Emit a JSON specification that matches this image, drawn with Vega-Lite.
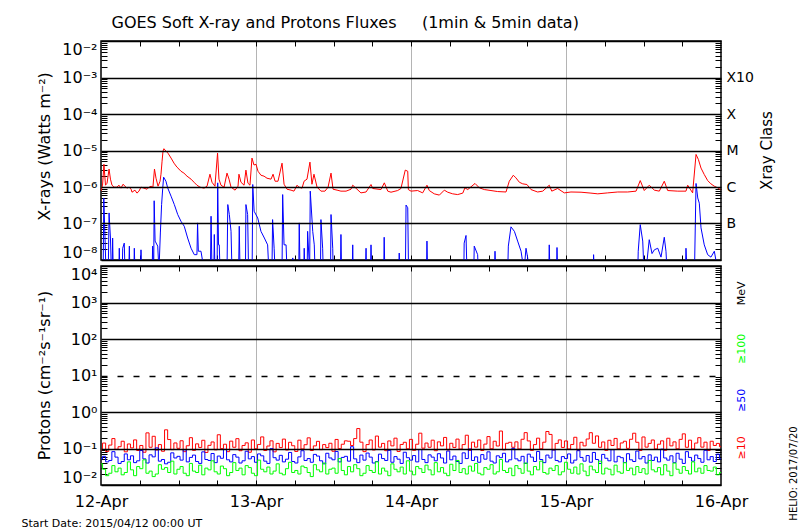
{
"$schema": "https://vega.github.io/schema/vega-lite/v6.json",
"background": "white",
"padding": {"left": 20, "top": 13, "right": 0, "bottom": 0},
"config": {
  "font": "DejaVu Sans",
  "view": {"stroke": "black", "strokeWidth": 1.5},
  "axis": {"labelFont": "DejaVu Sans", "titleFont": "DejaVu Sans", "labelColor": "black", "titleColor": "black", "titleFontWeight": "normal"}
},
"datasets": {
"xr": [
{"d":12.000,"v":7.7e-7},{"d":12.010,"v":1.12e-6},{"d":12.019,"v":4.2e-6},{"d":12.029,"v":1.12e-6},{"d":12.039,"v":1.27e-6},{"d":12.052,"v":3.1e-6},{"d":12.061,"v":1.64e-6},{"d":12.071,"v":1.12e-6},{"d":12.084,"v":9.9e-7},{"d":12.103,"v":9.9e-7},{"d":12.116,"v":1.12e-6},{"d":12.129,"v":9.3e-7},{"d":12.142,"v":1.19e-6},{"d":12.155,"v":1.05e-6},{"d":12.168,"v":9.3e-7},{"d":12.181,"v":9.9e-7},{"d":12.194,"v":8.7e-7},{"d":12.200,"v":7.2e-7},{"d":12.219,"v":8.2e-7},{"d":12.232,"v":6.8e-7},{"d":12.245,"v":7.7e-7},{"d":12.258,"v":9.9e-7},{"d":12.277,"v":9.3e-7},{"d":12.297,"v":8.7e-7},{"d":12.310,"v":9.9e-7},{"d":12.323,"v":1.05e-6},{"d":12.335,"v":9.9e-7},{"d":12.345,"v":3.1e-6},{"d":12.355,"v":1.74e-6},{"d":12.368,"v":1.05e-6},{"d":12.381,"v":1.44e-6},{"d":12.387,"v":2.24e-6},{"d":12.394,"v":5.1e-6},{"d":12.400,"v":9.6e-6},{"d":12.406,"v":1.12e-5},{"d":12.419,"v":9.6e-6},{"d":12.432,"v":8.45e-6},{"d":12.452,"v":6.2e-6},{"d":12.471,"v":4.5e-6},{"d":12.490,"v":3.5e-6},{"d":12.503,"v":3.1e-6},{"d":12.516,"v":2.7e-6},{"d":12.535,"v":2.4e-6},{"d":12.555,"v":1.98e-6},{"d":12.581,"v":1.64e-6},{"d":12.600,"v":1.35e-6},{"d":12.619,"v":1.12e-6},{"d":12.639,"v":9.9e-7},{"d":12.665,"v":9.3e-7},{"d":12.684,"v":1.05e-6},{"d":12.703,"v":2.24e-6},{"d":12.716,"v":1.35e-6},{"d":12.735,"v":1.05e-6},{"d":12.752,"v":8.45e-6},{"d":12.761,"v":1.64e-6},{"d":12.774,"v":1.12e-6},{"d":12.794,"v":9.9e-7},{"d":12.813,"v":2.4e-6},{"d":12.826,"v":1.64e-6},{"d":12.839,"v":9.9e-7},{"d":12.865,"v":8.2e-7},{"d":12.884,"v":1.05e-6},{"d":12.890,"v":2.24e-6},{"d":12.903,"v":1.35e-6},{"d":12.923,"v":1.12e-6},{"d":12.935,"v":2.9e-6},{"d":12.948,"v":1.27e-6},{"d":12.961,"v":1.12e-6},{"d":12.974,"v":6.2e-6},{"d":12.987,"v":4.0e-6},{"d":13.000,"v":4.2e-6},{"d":13.013,"v":2.7e-6},{"d":13.032,"v":2.1e-6},{"d":13.052,"v":1.98e-6},{"d":13.071,"v":1.74e-6},{"d":13.097,"v":1.64e-6},{"d":13.110,"v":2.24e-6},{"d":13.123,"v":1.44e-6},{"d":13.142,"v":1.44e-6},{"d":13.168,"v":4.5e-6},{"d":13.181,"v":1.19e-6},{"d":13.200,"v":8.7e-7},{"d":13.226,"v":8.2e-7},{"d":13.245,"v":7.7e-7},{"d":13.265,"v":1.12e-6},{"d":13.277,"v":9.9e-7},{"d":13.297,"v":9.3e-7},{"d":13.310,"v":1.44e-6},{"d":13.329,"v":1.64e-6},{"d":13.348,"v":4.8e-6},{"d":13.361,"v":1.19e-6},{"d":13.374,"v":2.24e-6},{"d":13.394,"v":9.9e-7},{"d":13.419,"v":7.7e-7},{"d":13.445,"v":7.7e-7},{"d":13.465,"v":9.9e-7},{"d":13.484,"v":2.4e-6},{"d":13.497,"v":8.7e-7},{"d":13.523,"v":8.2e-7},{"d":13.548,"v":7.7e-7},{"d":13.581,"v":7.7e-7},{"d":13.613,"v":8.7e-7},{"d":13.624,"v":1.12e-6},{"d":13.677,"v":6.9e-7},{"d":13.710,"v":7.3e-7},{"d":13.742,"v":1.17e-6},{"d":13.753,"v":9.1e-7},{"d":13.806,"v":8.5e-7},{"d":13.828,"v":1.3e-6},{"d":13.850,"v":7.7e-7},{"d":13.871,"v":7.2e-7},{"d":13.914,"v":8.0e-7},{"d":13.935,"v":9.1e-7},{"d":13.963,"v":2.9e-6},{"d":13.979,"v":2.7e-6},{"d":13.983,"v":8.5e-7},{"d":14.000,"v":7.7e-7},{"d":14.043,"v":8.0e-7},{"d":14.075,"v":6.9e-7},{"d":14.103,"v":1.12e-6},{"d":14.118,"v":8.0e-7},{"d":14.150,"v":6.5e-7},{"d":14.183,"v":6.0e-7},{"d":14.215,"v":8.2e-7},{"d":14.237,"v":7.2e-7},{"d":14.269,"v":6.5e-7},{"d":14.301,"v":6.2e-7},{"d":14.334,"v":6.8e-7},{"d":14.348,"v":9.5e-7},{"d":14.366,"v":8.5e-7},{"d":14.413,"v":1.25e-6},{"d":14.441,"v":9.5e-7},{"d":14.473,"v":8.5e-7},{"d":14.516,"v":8.0e-7},{"d":14.559,"v":7.5e-7},{"d":14.613,"v":7.3e-7},{"d":14.634,"v":1.44e-6},{"d":14.660,"v":2.1e-6},{"d":14.677,"v":1.78e-6},{"d":14.699,"v":1.35e-6},{"d":14.721,"v":1.22e-6},{"d":14.748,"v":1.17e-6},{"d":14.774,"v":8.5e-7},{"d":14.817,"v":7.3e-7},{"d":14.850,"v":7.7e-7},{"d":14.892,"v":1.12e-6},{"d":14.908,"v":7.7e-7},{"d":14.946,"v":9.1e-7},{"d":14.989,"v":6.9e-7},{"d":15.032,"v":7.3e-7},{"d":15.097,"v":7.2e-7},{"d":15.161,"v":6.8e-7},{"d":15.205,"v":6.5e-7},{"d":15.269,"v":6.9e-7},{"d":15.334,"v":7.3e-7},{"d":15.398,"v":7.3e-7},{"d":15.452,"v":7.7e-7},{"d":15.479,"v":1.5e-6},{"d":15.505,"v":8.0e-7},{"d":15.537,"v":1.12e-6},{"d":15.570,"v":8.2e-7},{"d":15.602,"v":7.7e-7},{"d":15.634,"v":1.44e-6},{"d":15.656,"v":8.0e-7},{"d":15.721,"v":7.7e-7},{"d":15.774,"v":7.7e-7},{"d":15.785,"v":1.12e-6},{"d":15.817,"v":6.9e-7},{"d":15.839,"v":7.8e-6},{"d":15.854,"v":5.7e-6},{"d":15.871,"v":3.3e-6},{"d":15.892,"v":2.2e-6},{"d":15.914,"v":1.5e-6},{"d":15.935,"v":1.22e-6},{"d":15.957,"v":1.05e-6},{"d":15.979,"v":9.5e-7},{"d":15.996,"v":8.5e-7}
],
"xb": [
{"d":12.000,"v":5e-9},{"d":12.014,"v":5e-9},{"d":12.018,"v":5.0e-7},{"d":12.026,"v":4e-8},{"d":12.032,"v":5e-9},{"d":12.047,"v":5e-9},{"d":12.052,"v":1.95e-7},{"d":12.061,"v":4e-8},{"d":12.067,"v":5e-9},{"d":12.072,"v":5e-9},{"d":12.075,"v":4e-8},{"d":12.079,"v":5e-9},{"d":12.115,"v":5e-9},{"d":12.118,"v":2.1e-8},{"d":12.122,"v":5e-9},{"d":12.137,"v":5e-9},{"d":12.140,"v":2.1e-8},{"d":12.150,"v":2.9e-8},{"d":12.155,"v":5e-9},{"d":12.179,"v":5e-9},{"d":12.183,"v":2.4e-8},{"d":12.186,"v":5e-9},{"d":12.212,"v":5e-9},{"d":12.215,"v":2.1e-8},{"d":12.219,"v":5e-9},{"d":12.255,"v":5e-9},{"d":12.258,"v":1.9e-8},{"d":12.262,"v":5e-9},{"d":12.330,"v":5e-9},{"d":12.333,"v":2.4e-8},{"d":12.340,"v":5e-9},{"d":12.343,"v":4.2e-7},{"d":12.349,"v":3.3e-8},{"d":12.366,"v":2.4e-8},{"d":12.374,"v":5e-9},{"d":12.383,"v":5.5e-8},{"d":12.391,"v":3.3e-7},{"d":12.398,"v":9e-7},{"d":12.404,"v":1.86e-6},{"d":12.419,"v":1.44e-6},{"d":12.430,"v":9.5e-7},{"d":12.452,"v":5.6e-7},{"d":12.473,"v":3.3e-7},{"d":12.495,"v":1.76e-7},{"d":12.516,"v":1.15e-7},{"d":12.537,"v":8.4e-8},{"d":12.559,"v":4.0e-8},{"d":12.581,"v":2.1e-8},{"d":12.602,"v":1.4e-8},{"d":12.619,"v":1.4e-8},{"d":12.623,"v":1.04e-7},{"d":12.628,"v":1.74e-8},{"d":12.645,"v":1.74e-8},{"d":12.666,"v":5e-9},{"d":12.706,"v":5e-9},{"d":12.710,"v":1.58e-7},{"d":12.716,"v":5e-9},{"d":12.728,"v":5e-9},{"d":12.731,"v":5.0e-8},{"d":12.735,"v":5e-9},{"d":12.749,"v":5e-9},{"d":12.753,"v":1.3e-6},{"d":12.758,"v":2.6e-8},{"d":12.763,"v":2.6e-8},{"d":12.768,"v":5e-9},{"d":12.813,"v":5e-9},{"d":12.818,"v":3.3e-7},{"d":12.828,"v":1.76e-7},{"d":12.839,"v":6.1e-8},{"d":12.845,"v":5e-9},{"d":12.888,"v":5e-9},{"d":12.892,"v":8.4e-8},{"d":12.897,"v":5e-9},{"d":12.932,"v":5e-9},{"d":12.935,"v":3.3e-7},{"d":12.946,"v":1.76e-7},{"d":12.952,"v":5e-9},{"d":12.975,"v":5e-9},{"d":12.979,"v":1.17e-6},{"d":12.988,"v":2.17e-7},{"d":13.011,"v":1.42e-7},{"d":13.032,"v":6.1e-8},{"d":13.054,"v":4.0e-8},{"d":13.075,"v":2.6e-8},{"d":13.083,"v":5e-9},{"d":13.103,"v":5e-9},{"d":13.107,"v":1.28e-7},{"d":13.117,"v":2.1e-8},{"d":13.123,"v":5e-9},{"d":13.168,"v":5e-9},{"d":13.172,"v":6.2e-7},{"d":13.181,"v":2.6e-8},{"d":13.194,"v":2.6e-8},{"d":13.200,"v":5e-9},{"d":13.234,"v":5e-9},{"d":13.237,"v":1.14e-8},{"d":13.240,"v":5e-9},{"d":13.276,"v":5e-9},{"d":13.279,"v":1.04e-7},{"d":13.284,"v":5e-9},{"d":13.308,"v":5e-9},{"d":13.311,"v":2.1e-8},{"d":13.316,"v":5e-9},{"d":13.330,"v":5e-9},{"d":13.333,"v":6.1e-8},{"d":13.346,"v":5e-9},{"d":13.350,"v":7.7e-7},{"d":13.366,"v":6.1e-8},{"d":13.376,"v":2.6e-8},{"d":13.381,"v":5e-9},{"d":13.416,"v":5e-9},{"d":13.419,"v":1.28e-7},{"d":13.430,"v":2.1e-8},{"d":13.434,"v":5e-9},{"d":13.481,"v":5e-9},{"d":13.484,"v":1.76e-7},{"d":13.495,"v":2.1e-8},{"d":13.498,"v":5e-9},{"d":13.545,"v":5e-9},{"d":13.548,"v":5.0e-8},{"d":13.552,"v":5e-9},{"d":13.621,"v":5e-9},{"d":13.624,"v":2.6e-8},{"d":13.627,"v":5e-9},{"d":13.706,"v":5e-9},{"d":13.710,"v":2.1e-8},{"d":13.713,"v":5e-9},{"d":13.739,"v":5e-9},{"d":13.742,"v":2.6e-8},{"d":13.746,"v":5e-9},{"d":13.824,"v":5e-9},{"d":13.827,"v":4.2e-8},{"d":13.831,"v":5e-9},{"d":13.921,"v":5e-9},{"d":13.924,"v":1.55e-8},{"d":13.928,"v":5e-9},{"d":13.964,"v":5e-9},{"d":13.968,"v":3.2e-7},{"d":13.979,"v":2.7e-7},{"d":13.984,"v":5e-9},{"d":14.100,"v":5e-9},{"d":14.103,"v":3.3e-8},{"d":14.107,"v":5e-9},{"d":14.341,"v":5e-9},{"d":14.343,"v":2.9e-8},{"d":14.355,"v":4.7e-8},{"d":14.361,"v":5e-9},{"d":14.405,"v":5e-9},{"d":14.408,"v":2.4e-8},{"d":14.430,"v":1.4e-8},{"d":14.434,"v":5e-9},{"d":14.539,"v":5e-9},{"d":14.542,"v":1.74e-8},{"d":14.546,"v":5e-9},{"d":14.624,"v":5e-9},{"d":14.628,"v":2.4e-8},{"d":14.645,"v":8.1e-8},{"d":14.667,"v":6.1e-8},{"d":14.688,"v":3.3e-8},{"d":14.710,"v":1.74e-8},{"d":14.729,"v":5e-9},{"d":14.742,"v":2.1e-8},{"d":14.753,"v":1.14e-8},{"d":14.758,"v":5e-9},{"d":14.889,"v":5e-9},{"d":14.892,"v":2.6e-8},{"d":14.896,"v":5e-9},{"d":14.939,"v":5e-9},{"d":14.942,"v":2.2e-8},{"d":14.946,"v":5e-9},{"d":15.176,"v":5e-9},{"d":15.178,"v":1.4e-8},{"d":15.182,"v":5e-9},{"d":15.463,"v":5e-9},{"d":15.466,"v":1.74e-8},{"d":15.479,"v":9.3e-8},{"d":15.495,"v":3.3e-8},{"d":15.503,"v":5e-9},{"d":15.516,"v":5e-9},{"d":15.537,"v":3.6e-8},{"d":15.555,"v":1.5e-8},{"d":15.570,"v":1.9e-8},{"d":15.592,"v":2.1e-8},{"d":15.613,"v":1.2e-8},{"d":15.634,"v":4.2e-8},{"d":15.645,"v":1.74e-8},{"d":15.652,"v":5e-9},{"d":15.771,"v":5e-9},{"d":15.774,"v":2.1e-8},{"d":15.781,"v":5e-9},{"d":15.829,"v":5e-9},{"d":15.839,"v":1.25e-6},{"d":15.850,"v":5.0e-7},{"d":15.860,"v":3.6e-7},{"d":15.871,"v":7.6e-8},{"d":15.892,"v":2.6e-8},{"d":15.914,"v":1.4e-8},{"d":15.935,"v":1.2e-8},{"d":15.957,"v":1.74e-8},{"d":15.979,"v":5e-9},{"d":16.000,"v":5e-9}
],
"pr": [
{"d":12.00,"p10":0.092,"p50":0.052,"p100":0.038},{"d":12.02,"p10":0.141,"p50":0.061,"p100":0.027},{"d":12.04,"p10":0.083,"p50":0.043,"p100":0.018},{"d":12.06,"p10":0.124,"p50":0.047,"p100":0.021},{"d":12.08,"p10":0.187,"p50":0.082,"p100":0.034},{"d":12.10,"p10":0.095,"p50":0.058,"p100":0.023},{"d":12.12,"p10":0.112,"p50":0.039,"p100":0.029},{"d":12.14,"p10":0.158,"p50":0.044,"p100":0.019},{"d":12.16,"p10":0.081,"p50":0.071,"p100":0.022},{"d":12.18,"p10":0.133,"p50":0.049,"p100":0.043},
{"d":12.20,"p10":0.104,"p50":0.063,"p100":0.026},{"d":12.22,"p10":0.172,"p50":0.041,"p100":0.018},{"d":12.24,"p10":0.088,"p50":0.046,"p100":0.032},{"d":12.26,"p10":0.121,"p50":0.088,"p100":0.028},{"d":12.28,"p10":0.079,"p50":0.052,"p100":0.049},{"d":12.30,"p10":0.268,"p50":0.040,"p100":0.021},{"d":12.32,"p10":0.108,"p50":0.067,"p100":0.024},{"d":12.34,"p10":0.216,"p50":0.059,"p100":0.017},{"d":12.36,"p10":0.091,"p50":0.104,"p100":0.020},{"d":12.38,"p10":0.128,"p50":0.045,"p100":0.036},
{"d":12.40,"p10":0.084,"p50":0.050,"p100":0.027},{"d":12.42,"p10":0.325,"p50":0.038,"p100":0.030},{"d":12.44,"p10":0.176,"p50":0.042,"p100":0.022},{"d":12.46,"p10":0.093,"p50":0.076,"p100":0.045},{"d":12.48,"p10":0.142,"p50":0.055,"p100":0.020},{"d":12.50,"p10":0.101,"p50":0.061,"p100":0.027},{"d":12.52,"p10":0.163,"p50":0.048,"p100":0.032},{"d":12.54,"p10":0.082,"p50":0.092,"p100":0.021},{"d":12.56,"p10":0.119,"p50":0.043,"p100":0.018},{"d":12.58,"p10":0.198,"p50":0.057,"p100":0.039},
{"d":12.60,"p10":0.089,"p50":0.066,"p100":0.024},{"d":12.62,"p10":0.134,"p50":0.044,"p100":0.022},{"d":12.64,"p10":0.107,"p50":0.039,"p100":0.035},{"d":12.66,"p10":0.168,"p50":0.081,"p100":0.019},{"d":12.68,"p10":0.078,"p50":0.050,"p100":0.029},{"d":12.70,"p10":0.122,"p50":0.047,"p100":0.026},{"d":12.72,"p10":0.151,"p50":0.073,"p100":0.046},{"d":12.74,"p10":0.092,"p50":0.041,"p100":0.023},{"d":12.76,"p10":0.238,"p50":0.062,"p100":0.020},{"d":12.78,"p10":0.099,"p50":0.054,"p100":0.033},
{"d":12.80,"p10":0.131,"p50":0.095,"p100":0.028},{"d":12.82,"p10":0.082,"p50":0.049,"p100":0.018},{"d":12.84,"p10":0.159,"p50":0.043,"p100":0.022},{"d":12.86,"p10":0.108,"p50":0.068,"p100":0.041},{"d":12.88,"p10":0.186,"p50":0.058,"p100":0.025},{"d":12.90,"p10":0.087,"p50":0.040,"p100":0.029},{"d":12.92,"p10":0.121,"p50":0.046,"p100":0.019},{"d":12.94,"p10":0.143,"p50":0.084,"p100":0.034},{"d":12.96,"p10":0.079,"p50":0.052,"p100":0.030},{"d":12.98,"p10":0.171,"p50":0.060,"p100":0.021},
{"d":13.00,"p10":0.098,"p50":0.042,"p100":0.018},{"d":13.02,"p10":0.129,"p50":0.071,"p100":0.048},{"d":13.04,"p10":0.208,"p50":0.063,"p100":0.027},{"d":13.06,"p10":0.088,"p50":0.045,"p100":0.023},{"d":13.08,"p10":0.117,"p50":0.039,"p100":0.031},{"d":13.10,"p10":0.162,"p50":0.099,"p100":0.020},{"d":13.12,"p10":0.081,"p50":0.056,"p100":0.024},{"d":13.14,"p10":0.138,"p50":0.048,"p100":0.038},{"d":13.16,"p10":0.106,"p50":0.065,"p100":0.021},{"d":13.18,"p10":0.181,"p50":0.043,"p100":0.019},
{"d":13.20,"p10":0.091,"p50":0.051,"p100":0.028},{"d":13.22,"p10":0.148,"p50":0.078,"p100":0.042},{"d":13.24,"p10":0.119,"p50":0.044,"p100":0.022},{"d":13.26,"p10":0.083,"p50":0.040,"p100":0.025},{"d":13.28,"p10":0.169,"p50":0.059,"p100":0.020},{"d":13.30,"p10":0.097,"p50":0.087,"p100":0.033},{"d":13.32,"p10":0.127,"p50":0.047,"p100":0.030},{"d":13.34,"p10":0.196,"p50":0.053,"p100":0.022},{"d":13.36,"p10":0.088,"p50":0.042,"p100":0.017},{"d":13.38,"p10":0.118,"p50":0.069,"p100":0.036},
{"d":13.40,"p10":0.157,"p50":0.062,"p100":0.026},{"d":13.42,"p10":0.093,"p50":0.046,"p100":0.023},{"d":13.44,"p10":0.128,"p50":0.038,"p100":0.040},{"d":13.46,"p10":0.106,"p50":0.074,"p100":0.020},{"d":13.48,"p10":0.139,"p50":0.055,"p100":0.027},{"d":13.50,"p10":0.084,"p50":0.049,"p100":0.029},{"d":13.52,"p10":0.177,"p50":0.083,"p100":0.021},{"d":13.54,"p10":0.099,"p50":0.043,"p100":0.053},{"d":13.56,"p10":0.131,"p50":0.057,"p100":0.025},{"d":13.58,"p10":0.162,"p50":0.061,"p100":0.019},
{"d":13.60,"p10":0.158,"p50":0.045,"p100":0.032},{"d":13.62,"p10":0.121,"p50":0.112,"p100":0.023},{"d":13.64,"p10":0.187,"p50":0.052,"p100":0.036},{"d":13.66,"p10":0.352,"p50":0.041,"p100":0.028},{"d":13.68,"p10":0.149,"p50":0.066,"p100":0.018},{"d":13.70,"p10":0.082,"p50":0.048,"p100":0.021},{"d":13.72,"p10":0.128,"p50":0.075,"p100":0.034},{"d":13.74,"p10":0.171,"p50":0.058,"p100":0.025},{"d":13.76,"p10":0.091,"p50":0.040,"p100":0.022},{"d":13.78,"p10":0.219,"p50":0.044,"p100":0.043},
{"d":13.80,"p10":0.109,"p50":0.070,"p100":0.020},{"d":13.82,"p10":0.138,"p50":0.053,"p100":0.029},{"d":13.84,"p10":0.087,"p50":0.047,"p100":0.024},{"d":13.86,"p10":0.161,"p50":0.089,"p100":0.018},{"d":13.88,"p10":0.118,"p50":0.042,"p100":0.038},{"d":13.90,"p10":0.192,"p50":0.060,"p100":0.027},{"d":13.92,"p10":0.083,"p50":0.051,"p100":0.023},{"d":13.94,"p10":0.129,"p50":0.039,"p100":0.031},{"d":13.96,"p10":0.148,"p50":0.079,"p100":0.020},{"d":13.98,"p10":0.098,"p50":0.056,"p100":0.046},
{"d":14.00,"p10":0.178,"p50":0.048,"p100":0.024},{"d":14.02,"p10":0.089,"p50":0.064,"p100":0.019},{"d":14.04,"p10":0.131,"p50":0.043,"p100":0.032},{"d":14.06,"p10":0.263,"p50":0.094,"p100":0.028},{"d":14.08,"p10":0.102,"p50":0.050,"p100":0.022},{"d":14.10,"p10":0.141,"p50":0.041,"p100":0.035},{"d":14.12,"p10":0.108,"p50":0.067,"p100":0.026},{"d":14.14,"p10":0.169,"p50":0.058,"p100":0.019},{"d":14.16,"p10":0.087,"p50":0.046,"p100":0.041},{"d":14.18,"p10":0.152,"p50":0.072,"p100":0.023},
{"d":14.20,"p10":0.118,"p50":0.055,"p100":0.030},{"d":14.22,"p10":0.201,"p50":0.040,"p100":0.021},{"d":14.24,"p10":0.091,"p50":0.085,"p100":0.018},{"d":14.26,"p10":0.139,"p50":0.049,"p100":0.037},{"d":14.28,"p10":0.107,"p50":0.062,"p100":0.025},{"d":14.30,"p10":0.181,"p50":0.044,"p100":0.047},{"d":14.32,"p10":0.096,"p50":0.039,"p100":0.022},{"d":14.34,"p10":0.128,"p50":0.076,"p100":0.028},{"d":14.36,"p10":0.231,"p50":0.053,"p100":0.020},{"d":14.38,"p10":0.089,"p50":0.097,"p100":0.033},
{"d":14.40,"p10":0.149,"p50":0.047,"p100":0.024},{"d":14.42,"p10":0.109,"p50":0.059,"p100":0.039},{"d":14.44,"p10":0.171,"p50":0.042,"p100":0.021},{"d":14.46,"p10":0.088,"p50":0.068,"p100":0.019},{"d":14.48,"p10":0.132,"p50":0.051,"p100":0.030},{"d":14.50,"p10":0.212,"p50":0.081,"p100":0.027},{"d":14.52,"p10":0.098,"p50":0.045,"p100":0.036},{"d":14.54,"p10":0.158,"p50":0.040,"p100":0.020},{"d":14.56,"p10":0.117,"p50":0.063,"p100":0.023},{"d":14.58,"p10":0.301,"p50":0.056,"p100":0.050},
{"d":14.60,"p10":0.092,"p50":0.074,"p100":0.025},{"d":14.62,"p10":0.139,"p50":0.043,"p100":0.022},{"d":14.64,"p10":0.148,"p50":0.049,"p100":0.029},{"d":14.66,"p10":0.108,"p50":0.101,"p100":0.018},{"d":14.68,"p10":0.152,"p50":0.052,"p100":0.034},{"d":14.70,"p10":0.097,"p50":0.046,"p100":0.028},{"d":14.72,"p10":0.179,"p50":0.061,"p100":0.021},{"d":14.74,"p10":0.272,"p50":0.039,"p100":0.040},{"d":14.76,"p10":0.161,"p50":0.070,"p100":0.024},{"d":14.78,"p10":0.089,"p50":0.058,"p100":0.019},
{"d":14.80,"p10":0.128,"p50":0.044,"p100":0.032},{"d":14.82,"p10":0.192,"p50":0.083,"p100":0.026},{"d":14.84,"p10":0.098,"p50":0.050,"p100":0.045},{"d":14.86,"p10":0.149,"p50":0.041,"p100":0.022},{"d":14.88,"p10":0.292,"p50":0.066,"p100":0.020},{"d":14.90,"p10":0.243,"p50":0.055,"p100":0.029},{"d":14.92,"p10":0.091,"p50":0.092,"p100":0.025},{"d":14.94,"p10":0.138,"p50":0.047,"p100":0.034},{"d":14.96,"p10":0.172,"p50":0.043,"p100":0.019},{"d":14.98,"p10":0.107,"p50":0.060,"p100":0.023},
{"d":15.00,"p10":0.161,"p50":0.053,"p100":0.042},{"d":15.02,"p10":0.097,"p50":0.071,"p100":0.027},{"d":15.04,"p10":0.129,"p50":0.040,"p100":0.021},{"d":15.06,"p10":0.203,"p50":0.048,"p100":0.031},{"d":15.08,"p10":0.089,"p50":0.087,"p100":0.020},{"d":15.10,"p10":0.148,"p50":0.057,"p100":0.038},{"d":15.12,"p10":0.118,"p50":0.045,"p100":0.024},{"d":15.14,"p10":0.182,"p50":0.064,"p100":0.018},{"d":15.16,"p10":0.271,"p50":0.042,"p100":0.033},{"d":15.18,"p10":0.139,"p50":0.078,"p100":0.026},
{"d":15.20,"p10":0.221,"p50":0.050,"p100":0.022},{"d":15.22,"p10":0.108,"p50":0.039,"p100":0.045},{"d":15.24,"p10":0.151,"p50":0.069,"p100":0.020},{"d":15.26,"p10":0.089,"p50":0.054,"p100":0.029},{"d":15.28,"p10":0.168,"p50":0.046,"p100":0.027},{"d":15.30,"p10":0.121,"p50":0.093,"p100":0.019},{"d":15.32,"p10":0.189,"p50":0.043,"p100":0.035},{"d":15.34,"p10":0.098,"p50":0.061,"p100":0.023},{"d":15.36,"p10":0.142,"p50":0.056,"p100":0.021},{"d":15.38,"p10":0.158,"p50":0.041,"p100":0.041},
{"d":15.40,"p10":0.101,"p50":0.072,"p100":0.025},{"d":15.42,"p10":0.179,"p50":0.049,"p100":0.029},{"d":15.44,"p10":0.262,"p50":0.044,"p100":0.019},{"d":15.46,"p10":0.148,"p50":0.085,"p100":0.032},{"d":15.48,"p10":0.088,"p50":0.052,"p100":0.022},{"d":15.50,"p10":0.207,"p50":0.060,"p100":0.028},{"d":15.52,"p10":0.109,"p50":0.040,"p100":0.020},{"d":15.54,"p10":0.138,"p50":0.067,"p100":0.047},{"d":15.56,"p10":0.171,"p50":0.047,"p100":0.026},{"d":15.58,"p10":0.097,"p50":0.058,"p100":0.023},
{"d":15.60,"p10":0.131,"p50":0.043,"p100":0.030},{"d":15.62,"p10":0.162,"p50":0.096,"p100":0.019},{"d":15.64,"p10":0.089,"p50":0.055,"p100":0.036},{"d":15.66,"p10":0.191,"p50":0.048,"p100":0.024},{"d":15.68,"p10":0.118,"p50":0.063,"p100":0.018},{"d":15.70,"p10":0.152,"p50":0.041,"p100":0.040},{"d":15.72,"p10":0.098,"p50":0.074,"p100":0.027},{"d":15.74,"p10":0.178,"p50":0.051,"p100":0.021},{"d":15.76,"p10":0.252,"p50":0.039,"p100":0.032},{"d":15.78,"p10":0.108,"p50":0.082,"p100":0.025},
{"d":15.80,"p10":0.169,"p50":0.057,"p100":0.020},{"d":15.82,"p10":0.097,"p50":0.045,"p100":0.043},{"d":15.84,"p10":0.141,"p50":0.066,"p100":0.023},{"d":15.86,"p10":0.198,"p50":0.053,"p100":0.029},{"d":15.88,"p10":0.109,"p50":0.042,"p100":0.021},{"d":15.90,"p10":0.149,"p50":0.089,"p100":0.034},{"d":15.92,"p10":0.088,"p50":0.049,"p100":0.025},{"d":15.94,"p10":0.158,"p50":0.060,"p100":0.024},{"d":15.96,"p10":0.121,"p50":0.044,"p100":0.031},{"d":15.98,"p10":0.138,"p50":0.070,"p100":0.019},
{"d":16.00,"p10":0.112,"p50":0.052,"p100":0.022}
]
},
"spacing": 6,
"bounds": "flush",
"vconcat": [
{
  "width": 620, "height": 219,
  "resolve": {"axis": {"x": "independent", "y": "independent"}},
  "layer": [
    {
      "data": {"name": "xr"},
      "mark": {"type": "line", "color": "#ff0000", "strokeWidth": 1, "clip": true},
      "encoding": {
        "x": {"field": "d", "type": "quantitative", "scale": {"domain": [12, 16], "nice": false, "zero": false},
          "axis": {"orient": "bottom", "values": [12, 13, 14, 15, 16], "labels": false, "ticks": false, "domain": false, "title": null, "grid": true, "gridColor": "#b4b4b4", "gridWidth": 1, "gridOpacity": {"condition": {"test": "datum.value == 12 || datum.value == 16", "value": 0}, "value": 1}}},
        "y": {"field": "v", "type": "quantitative", "scale": {"type": "log", "domain": [1e-8, 1e-2], "nice": false},
          "axis": {"orient": "left", "values": [1e-8, 1e-7, 1e-6, 1e-5, 1e-4, 1e-3, 1e-2], "labelExpr": "['10⁻⁸','10⁻⁷','10⁻⁶','10⁻⁵','10⁻⁴','10⁻³','10⁻²'][round(log(datum.value)/LN10)+8]", "labelFontSize": 16, "labelPadding": 4, "labelFlush": true, "labelOverlap": false, "ticks": false, "domain": false, "grid": true, "gridColor": "black", "gridWidth": 1.5, "zindex": 1, "title": "X-rays (Watts m⁻²)", "titleFontSize": 16, "titleX": -57, "titleY": 105, "titleAlign": "center", "titleBaseline": "middle", "titleAngle": 270}}
      }
    },
    {
      "data": {"name": "xb"},
      "mark": {"type": "line", "color": "#0000ff", "strokeWidth": 1, "clip": true},
      "encoding": {
        "x": {"field": "d", "type": "quantitative",
          "axis": {"orient": "bottom", "values": [12.25, 12.5, 12.75, 13, 13.25, 13.5, 13.75, 14, 14.25, 14.5, 14.75, 15, 15.25, 15.5, 15.75], "labels": false, "domain": false, "grid": false, "tickSize": -5, "tickColor": "black", "tickWidth": 1, "title": null}},
        "y": {"field": "v", "type": "quantitative",
          "axis": {"orient": "left", "values": [2e-8,3e-8,4e-8,5e-8,6e-8,7e-8,8e-8,9e-8,2e-7,3e-7,4e-7,5e-7,6e-7,7e-7,8e-7,9e-7,2e-6,3e-6,4e-6,5e-6,6e-6,7e-6,8e-6,9e-6,2e-5,3e-5,4e-5,5e-5,6e-5,7e-5,8e-5,9e-5,2e-4,3e-4,4e-4,5e-4,6e-4,7e-4,8e-4,9e-4,2e-3,3e-3,4e-3,5e-3,6e-3,7e-3,8e-3,9e-3], "labels": false, "domain": false, "grid": false, "tickSize": -6, "tickColor": "black", "tickWidth": 1, "title": null}}
      }
    },
    {
      "data": {"name": "xr"},
      "mark": {"type": "point", "opacity": 0},
      "encoding": {
        "x": {"field": "d", "type": "quantitative",
          "axis": {"orient": "top", "values": [12.25, 12.5, 12.75, 13, 13.25, 13.5, 13.75, 14, 14.25, 14.5, 14.75, 15, 15.25, 15.5, 15.75], "labels": false, "domain": false, "grid": false, "tickSize": -5, "tickColor": "black", "tickWidth": 1,
            "title": "GOES Soft X-ray and Protons Fluxes\u00a0\u00a0\u00a0\u00a0\u00a0(1min & 5min data)", "titleFontSize": 16, "titleX": 10, "titleY": -14, "titleAlign": "left", "titleBaseline": "alphabetic", "titleAngle": 0}},
        "y": {"field": "v", "type": "quantitative",
          "axis": {"orient": "right", "values": [2e-8,3e-8,4e-8,5e-8,6e-8,7e-8,8e-8,9e-8,2e-7,3e-7,4e-7,5e-7,6e-7,7e-7,8e-7,9e-7,2e-6,3e-6,4e-6,5e-6,6e-6,7e-6,8e-6,9e-6,2e-5,3e-5,4e-5,5e-5,6e-5,7e-5,8e-5,9e-5,2e-4,3e-4,4e-4,5e-4,6e-4,7e-4,8e-4,9e-4,2e-3,3e-3,4e-3,5e-3,6e-3,7e-3,8e-3,9e-3], "labels": false, "domain": false, "grid": false, "tickSize": -6, "tickColor": "black", "tickWidth": 1, "title": null}}
      }
    },
    {
      "data": {"name": "xr"},
      "mark": {"type": "point", "opacity": 0},
      "encoding": {
        "x": {"field": "d", "type": "quantitative", "axis": null},
        "y": {"field": "v", "type": "quantitative",
          "axis": {"orient": "right", "values": [1e-7, 1e-6, 1e-5, 1e-4, 1e-3], "labelExpr": "datum.value > 5e-4 ? 'X10' : datum.value > 5e-5 ? 'X' : datum.value > 5e-6 ? 'M' : datum.value > 5e-7 ? 'C' : 'B'", "labelFontSize": 14, "labelPadding": 5, "labelAlign": "left", "labelBaseline": "middle", "labelFlush": false, "labelOverlap": false, "ticks": false, "domain": false, "grid": false,
            "title": "Xray Class", "titleFontSize": 15, "titleX": 45, "titleY": 109, "titleAngle": 270, "titleAlign": "center", "titleBaseline": "middle"}}
      }
    }
  ]
},
{
  "width": 620, "height": 219,
  "resolve": {"axis": {"x": "independent", "y": "independent"}},
  "layer": [
    {
      "data": {"name": "pr"},
      "mark": {"type": "line", "color": "#ff0000", "strokeWidth": 1, "clip": true, "interpolate": "step"},
      "encoding": {
        "x": {"field": "d", "type": "quantitative", "scale": {"domain": [12, 16], "nice": false, "zero": false},
          "axis": {"orient": "bottom", "values": [12, 13, 14, 15, 16], "labelExpr": "datum.value + '-Apr'", "labelFontSize": 16, "labelPadding": 8, "labelFlush": false, "labelOverlap": false, "ticks": false, "domain": false, "grid": true, "gridColor": "#b4b4b4", "gridWidth": 1, "gridOpacity": {"condition": {"test": "datum.value == 12 || datum.value == 16", "value": 0}, "value": 1},
            "title": "Start Date: 2015/04/12 00:00 UT", "titleFontSize": 11, "titleX": -80, "titleY": 41, "titleAlign": "left", "titleBaseline": "alphabetic"}},
        "y": {"field": "p10", "type": "quantitative", "scale": {"type": "log", "domain": [0.01, 10000], "nice": false},
          "axis": {"orient": "left", "values": [0.01, 0.1, 1, 10, 100, 1000, 10000], "labelExpr": "['10⁻²','10⁻¹','10⁰','10¹','10²','10³','10⁴'][round(log(datum.value)/LN10)+2]", "labelFontSize": 16, "labelPadding": 4, "labelFlush": true, "labelOverlap": false, "ticks": false, "domain": false, "grid": true, "gridColor": "black", "gridWidth": 1.5, "gridDash": {"condition": {"test": "datum.value > 5 && datum.value < 20", "value": [6, 10]}, "value": []}, "zindex": 1,
            "title": "Protons (cm⁻²s⁻¹sr⁻¹)", "titleFontSize": 16, "titleX": -57, "titleY": 109, "titleAlign": "center", "titleBaseline": "middle", "titleAngle": 270}}
      }
    },
    {
      "data": {"name": "pr"},
      "mark": {"type": "line", "color": "#0000ff", "strokeWidth": 1, "clip": true, "interpolate": "step"},
      "encoding": {
        "x": {"field": "d", "type": "quantitative",
          "axis": {"orient": "bottom", "values": [12.25, 12.5, 12.75, 13, 13.25, 13.5, 13.75, 14, 14.25, 14.5, 14.75, 15, 15.25, 15.5, 15.75], "labels": false, "domain": false, "grid": false, "tickSize": -5, "tickColor": "black", "tickWidth": 1, "title": null}},
        "y": {"field": "p50", "type": "quantitative",
          "axis": {"orient": "left", "values": [0.02,0.03,0.04,0.05,0.06,0.07,0.08,0.09,0.2,0.3,0.4,0.5,0.6,0.7,0.8,0.9,2,3,4,5,6,7,8,9,20,30,40,50,60,70,80,90,200,300,400,500,600,700,800,900,2000,3000,4000,5000,6000,7000,8000,9000], "labels": false, "domain": false, "grid": false, "tickSize": -6, "tickColor": "black", "tickWidth": 1, "title": null}}
      }
    },
    {
      "data": {"name": "pr"},
      "mark": {"type": "line", "color": "#00ff00", "strokeWidth": 1, "clip": true, "interpolate": "step"},
      "encoding": {
        "x": {"field": "d", "type": "quantitative",
          "axis": {"orient": "top", "values": [12.25, 12.5, 12.75, 13, 13.25, 13.5, 13.75, 14, 14.25, 14.5, 14.75, 15, 15.25, 15.5, 15.75], "labels": false, "domain": false, "grid": false, "tickSize": -5, "tickColor": "black", "tickWidth": 1, "title": null}},
        "y": {"field": "p100", "type": "quantitative",
          "axis": {"orient": "right", "values": [0.02,0.03,0.04,0.05,0.06,0.07,0.08,0.09,0.2,0.3,0.4,0.5,0.6,0.7,0.8,0.9,2,3,4,5,6,7,8,9,20,30,40,50,60,70,80,90,200,300,400,500,600,700,800,900,2000,3000,4000,5000,6000,7000,8000,9000], "labels": false, "domain": false, "grid": false, "tickSize": -6, "tickColor": "black", "tickWidth": 1, "title": null}}
      }
    },
    {
      "data": {"name": "pr"},
      "mark": {"type": "point", "opacity": 0},
      "encoding": {
        "x": {"field": "d", "type": "quantitative", "axis": null},
        "y": {"field": "p10", "type": "quantitative",
          "axis": {"orient": "right", "values": [1824, 55, 2.16, 0.108], "labelExpr": "datum.value > 1000 ? 'MeV' : datum.value > 10 ? '≥100' : datum.value > 1 ? '≥50' : '≥10'", "labelFontSize": 11, "labelPadding": 20, "labelAngle": 270, "labelAlign": "center", "labelBaseline": "middle", "labelFlush": false, "labelOverlap": false, "ticks": false, "domain": false, "grid": false,
            "labelColor": {"condition": [{"test": "datum.value > 1000", "value": "black"}, {"test": "datum.value > 10", "value": "#00ff00"}, {"test": "datum.value > 1", "value": "#0000ff"}], "value": "#ff0000"},
            "title": "HELIO: 2017/07/20", "titleFontSize": 10, "titleX": 72, "titleY": 207, "titleAngle": 270, "titleAlign": "center", "titleBaseline": "middle"}}
      }
    }
  ]
}
]
}
